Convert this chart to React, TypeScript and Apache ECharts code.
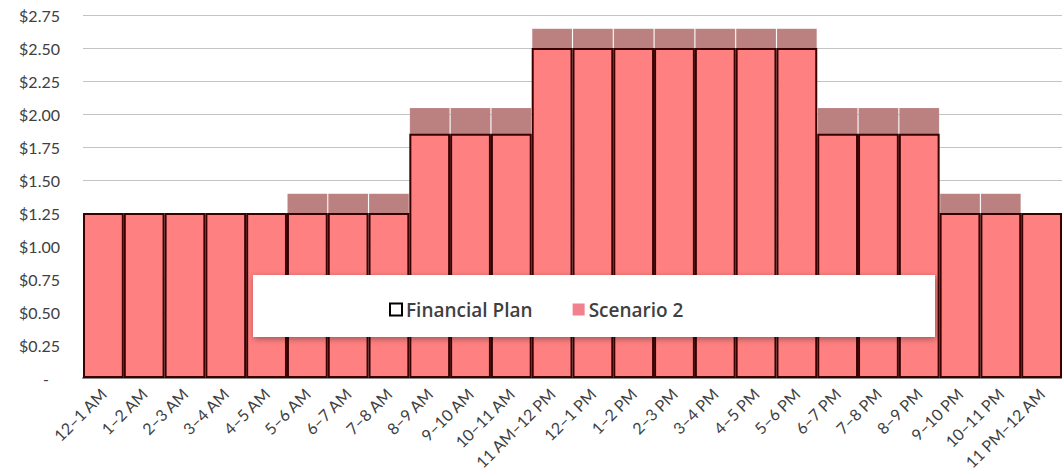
import React, { useEffect, useRef } from "react";
import * as echarts from "echarts";

const hours = [
  "12–1 AM", "1–2 AM", "2–3 AM", "3–4 AM", "4–5 AM", "5–6 AM", "6–7 AM", "7–8 AM",
  "8–9 AM", "9–10 AM", "10–11 AM", "11 AM–12 PM", "12–1 PM", "1–2 PM", "2–3 PM",
  "3–4 PM", "4–5 PM", "5–6 PM", "6–7 PM", "7–8 PM", "8–9 PM", "9–10 PM", "10–11 PM",
  "11 PM–12 AM",
];

const financialPlan = [
  1.25, 1.25, 1.25, 1.25, 1.25, 1.25, 1.25, 1.25,
  1.85, 1.85, 1.85, 2.5, 2.5, 2.5, 2.5, 2.5, 2.5, 2.5,
  1.85, 1.85, 1.85, 1.25, 1.25, 1.25,
];

const scenario2 = [
  1.25, 1.25, 1.25, 1.25, 1.25, 1.4, 1.4, 1.4,
  2.05, 2.05, 2.05, 2.65, 2.65, 2.65, 2.65, 2.65, 2.65, 2.65,
  2.05, 2.05, 2.05, 1.4, 1.4, 1.25,
];

const FONT = "Lato, 'Open Sans', sans-serif";

export default function App() {
  const ref = useRef<HTMLDivElement>(null);
  useEffect(() => {
    if (!ref.current) return;
    const chart = echarts.init(ref.current, null, { renderer: "svg" });
    chart.setOption({
      animation: false,
      backgroundColor: "#ffffff",
      grid: { left: 83, right: 0, top: 15, bottom: 97 },
      xAxis: {
        type: "category",
        data: hours,
        axisTick: { show: false },
        axisLine: { lineStyle: { color: "#8c8c8c", width: 2 } },
        axisLabel: {
          rotate: 45,
          interval: 0,
          fontFamily: FONT,
          fontSize: 16,
          color: "#404040",
          margin: 13,
        },
      },
      yAxis: {
        type: "value",
        min: 0,
        max: 2.75,
        interval: 0.25,
        axisLine: { show: false },
        axisTick: { show: false },
        splitLine: { lineStyle: { color: "#c4c4c4", width: 1 } },
        axisLabel: {
          margin: 23,
          fontFamily: FONT,
          fontSize: 16,
          color: "#404040",
          formatter: (v: number) => (v === 0 ? "{z|-}" : "$" + v.toFixed(2)),
          rich: {
            z: { fontFamily: FONT, fontSize: 16, color: "#404040", padding: [0, 11, 0, 0] },
          },
        },
      },
      legend: {
        data: [
          {
            name: "Financial Plan",
            icon: "rect",
            itemStyle: { color: "#ffffff", borderColor: "#000000", borderWidth: 2 },
          },
          {
            name: "Scenario 2",
            icon: "rect",
            itemStyle: { color: "#f2808e", borderWidth: 0 },
          },
        ],
        left: 384,
        top: 295,
        itemWidth: 12,
        itemHeight: 12,
        itemGap: 40,
        z: 20,
        textStyle: {
          fontFamily: "'Open Sans', sans-serif",
          fontSize: 19,
          color: "#404040",
          fontWeight: 600,
          padding: [0, 0, 0, -1],
        },
        selectedMode: false,
      },
      graphic: [
        {
          type: "rect",
          left: 253,
          top: 275,
          shape: { width: 682, height: 62 },
          style: {
            fill: "#ffffff",
            shadowBlur: 6,
            shadowColor: "rgba(0,0,0,0.35)",
            shadowOffsetX: 1,
            shadowOffsetY: 2,
          },
          z: 10,
        },
      ],
      series: [
        {
          name: "Scenario 2",
          type: "bar",
          data: scenario2,
          barCategoryGap: "0%",
          barGap: "-100%",
          itemStyle: { color: "#bb8080", borderColor: "rgba(255,255,255,0.12)", borderWidth: 1 },
          z: 2,
        },
        {
          name: "Financial Plan",
          type: "bar",
          data: financialPlan,
          barCategoryGap: "0%",
          barGap: "-100%",
          itemStyle: { color: "#ff8080", borderColor: "#3a0000", borderWidth: 2 },
          z: 3,
        },
      ],
    });
    return () => chart.dispose();
  }, []);
  return (
    <div
      ref={ref}
      style={{ position: "fixed", left: 0, top: 0, width: 1062, height: 475 }}
    />
  );
}
